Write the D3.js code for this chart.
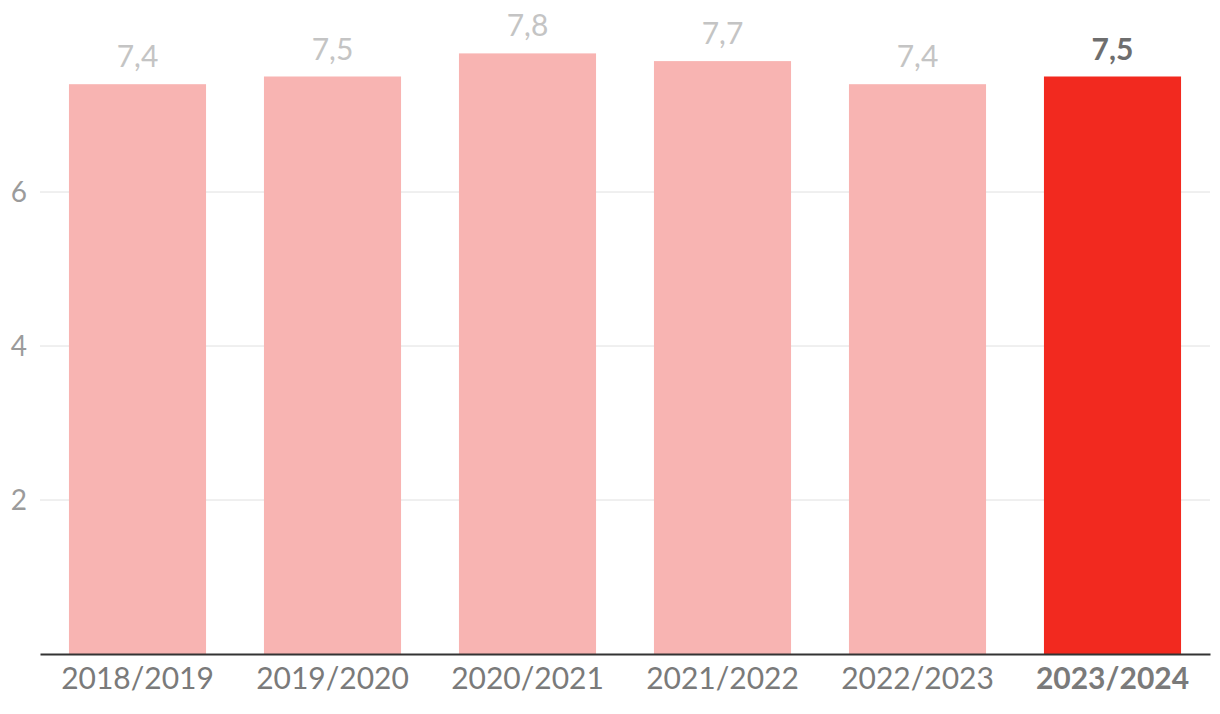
<!DOCTYPE html>
<html>
<head>
<meta charset="utf-8">
<script src="https://cdn.jsdelivr.net/npm/d3@7"></script>
<style>
  body { margin: 0; background: #fff; }
  svg text { font-family: Lato, "Open Sans", sans-serif; }
</style>
</head>
<body>
<div id="chart"></div>
<script>
// seasons and values
var seasons = ["2018/2019", "2019/2020", "2020/2021", "2021/2022", "2022/2023", "2023/2024"];
var values = [7.4, 7.5, 7.8, 7.7, 7.4, 7.5];
var yTicks = [2, 4, 6];
var highlight = "2023/2024";

var width = 1220, height = 714;
var margin = {top: 20, right: 10, bottom: 60, left: 40};

var svg = d3.select("#chart").append("svg")
    .attr("width", width)
    .attr("height", height);

var x = d3.scaleBand()
    .domain(seasons)
    .range([margin.left, width - margin.right])
    .paddingInner(0.297)
    .paddingOuter(0.1485);

var y = d3.scaleLinear()
    .domain([0, 7.8])
    .range([height - margin.bottom, height - margin.bottom - 7.8 * 77]);

// gridlines
svg.append("g")
    .selectAll("line")
    .data(yTicks)
    .enter().append("line")
    .attr("x1", margin.left)
    .attr("x2", width - margin.right)
    .attr("y1", function(d) { return y(d); })
    .attr("y2", function(d) { return y(d); })
    .attr("stroke", "#e0e0e0")
    .attr("stroke-width", 1);

// y tick labels
svg.append("g")
    .selectAll("text")
    .data(yTicks)
    .enter().append("text")
    .attr("x", 27)
    .attr("y", function(d) { return y(d); })
    .attr("dy", "0.35em")
    .attr("text-anchor", "end")
    .attr("fill", "#9b9b9b")
    .style("font-size", "28px")
    .text(function(d) { return d; });

var data = seasons.map(function(s, i) { return {season: s, value: values[i]}; });

svg.append("g")
    .selectAll("rect")
    .data(data)
    .enter().append("rect")
    .attr("x", function(d) { return x(d.season); })
    .attr("width", x.bandwidth())
    .attr("y", function(d) { return y(d.value); })
    .attr("height", function(d) { return y(0) - y(d.value); })
    .attr("fill", function(d) { return d.season === highlight ? "#f2291f" : "#f8b4b2"; });

// value labels
svg.append("g")
    .selectAll("text")
    .data(data)
    .enter().append("text")
    .attr("x", function(d) { return x(d.season) + x.bandwidth() / 2; })
    .attr("y", function(d) { return y(d.value) - 17; })
    .attr("text-anchor", "middle")
    .attr("fill", function(d) { return d.season === highlight ? "#6e6e6e" : "#c4c4c4"; })
    .style("font-size", "30px")
    .style("font-weight", function(d) { return d.season === highlight ? "bold" : "normal"; })
    .text(function(d) { return d3.format(".1f")(d.value).replace(".", ","); });

// x axis
var xAxis = svg.append("g")
    .attr("transform", "translate(0," + y(0) + ")")
    .call(d3.axisBottom(x).tickSize(0).tickPadding(14));

xAxis.select(".domain")
    .attr("stroke", "#333")
    .attr("stroke-width", 2);

xAxis.selectAll("text")
    .attr("fill", "#7a7a7a")
    .style("font-size", "30px")
    .style("font-family", "Lato, 'Open Sans', sans-serif")
    .style("font-weight", function(d) { return d === highlight ? "bold" : "normal"; });
</script>
</body>
</html>
